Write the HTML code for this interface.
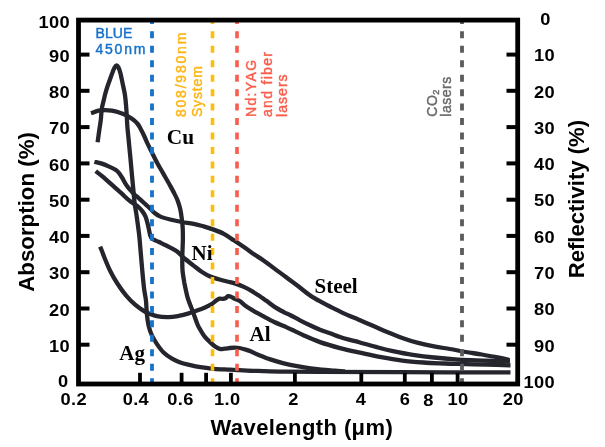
<!DOCTYPE html>
<html><head><meta charset="utf-8"><style>html,body{margin:0;padding:0;background:#fff;width:605px;height:447px;overflow:hidden}svg{display:block;will-change:transform}</style></head><body>
<svg width="605" height="447" viewBox="0 0 605 447">
<rect width="605" height="447" fill="#fff"/>
<defs><clipPath id="plotclip"><rect x="0" y="21" width="605" height="362"/></clipPath></defs>
<path d="M97.6,142.3 C97.9,140.2 98.8,133.7 99.3,130.0 C99.8,126.3 100.4,123.6 100.8,120.1 C101.2,116.5 101.3,112.0 101.8,108.7 C102.3,105.4 103.2,102.5 103.8,100.0 C104.4,97.5 104.6,96.2 105.2,94.0 C105.8,91.8 106.6,89.2 107.3,87.0 C108.0,84.8 108.8,82.8 109.6,80.5 C110.4,78.2 111.5,75.1 112.3,73.0 C113.1,70.9 113.8,69.1 114.5,67.8 C115.2,66.5 115.8,65.3 116.5,65.3 C117.2,65.2 117.8,66.1 118.5,67.5 C119.2,68.9 119.9,71.1 120.5,73.5 C121.1,75.9 121.5,78.2 122.3,81.8 C123.0,85.4 124.3,90.8 125.0,95.3 C125.7,99.8 125.9,103.5 126.3,108.7 C126.7,114.0 127.0,121.5 127.4,126.8 C127.8,132.1 128.3,135.8 128.7,140.3 C129.1,144.8 129.6,149.8 130.0,153.7 C130.4,157.5 130.6,159.6 130.9,163.4 C131.2,167.2 131.7,172.3 132.1,176.8 C132.5,181.3 133.0,185.8 133.4,190.3 C133.8,194.8 134.2,199.9 134.7,203.7 C135.2,207.5 135.7,209.8 136.2,213.0 C136.7,216.2 137.1,219.2 137.6,222.9 C138.1,226.6 138.7,231.0 139.2,235.3 C139.7,239.6 139.9,242.8 140.4,248.7 C140.9,254.6 141.7,264.1 142.3,270.8 C142.9,277.5 143.5,283.8 144.1,288.7 C144.7,293.6 145.4,295.9 145.9,300.0 C146.4,304.1 146.4,309.2 146.8,313.4 C147.2,317.6 147.7,321.6 148.5,325.2 C149.3,328.8 150.4,332.1 151.8,335.2 C153.2,338.3 154.8,341.0 156.8,343.9 C158.8,346.8 161.1,350.1 163.6,352.6 C166.1,355.1 169.2,357.1 172.0,358.7 C174.8,360.3 177.2,361.4 180.3,362.5 C183.4,363.6 187.0,364.3 190.4,365.1 C193.8,365.9 196.6,366.5 200.5,367.1 C204.4,367.7 209.0,368.4 213.9,368.8 C218.8,369.2 223.4,369.3 230.0,369.6 C236.6,369.9 245.3,370.5 253.6,370.8 C261.9,371.1 268.9,371.4 280.0,371.6 C291.1,371.8 300.0,371.8 320.0,371.9 C340.0,372.0 368.2,372.1 400.0,372.2 C431.8,372.3 492.1,372.4 510.5,372.4" fill="none" stroke="#24252d" stroke-width="4.3" stroke-linejoin="round" stroke-linecap="butt"/>
<path d="M91.0,113.2 C92.2,112.8 96.1,111.2 98.4,110.7 C100.8,110.2 102.9,110.1 105.1,110.1 C107.3,110.1 109.5,110.3 111.8,110.7 C114.0,111.1 116.3,111.6 118.6,112.3 C120.8,113.0 123.1,113.7 125.3,114.8 C127.5,115.9 130.0,117.3 132.0,118.8 C134.0,120.2 135.9,121.9 137.3,123.5 C138.7,125.1 139.2,126.2 140.3,128.2 C141.4,130.2 142.8,133.0 144.0,135.5 C145.2,138.0 146.0,140.4 147.3,143.1 C148.6,145.8 149.9,148.4 151.6,151.8 C153.3,155.2 155.6,159.9 157.5,163.5 C159.4,167.1 161.4,170.2 163.3,173.6 C165.2,177.0 167.2,180.5 169.1,183.8 C170.9,187.1 173.0,190.8 174.4,193.6 C175.8,196.4 176.8,198.2 177.7,200.7 C178.6,203.2 179.4,205.6 180.1,208.5 C180.8,211.4 181.3,214.7 181.7,217.9 C182.1,221.2 182.5,224.7 182.7,228.0 C182.9,231.3 182.9,234.7 182.9,238.0 C182.9,241.3 182.7,244.7 182.6,248.0 C182.5,251.3 182.3,254.3 182.3,258.0 C182.3,261.7 182.2,265.9 182.5,270.0 C182.8,274.1 183.6,278.4 184.3,282.6 C185.1,286.8 186.3,292.2 187.0,295.2 C187.7,298.1 187.4,297.2 188.5,300.3 C189.6,303.4 192.1,309.7 193.6,313.7 C195.1,317.7 196.3,321.6 197.5,324.5 C198.7,327.4 199.8,328.9 201.0,331.0 C202.2,333.1 203.4,335.1 204.9,336.9 C206.4,338.7 208.2,340.3 209.9,341.9 C211.6,343.5 213.2,345.1 214.8,346.3 C216.5,347.5 218.1,348.5 219.8,348.9 C221.5,349.3 223.2,348.8 224.8,348.7 C226.5,348.6 228.0,348.2 229.7,348.0 C231.3,347.8 233.0,347.6 234.7,347.6 C236.3,347.6 237.9,347.7 239.6,348.0 C241.2,348.3 242.8,348.8 244.6,349.3 C246.4,349.9 248.6,350.5 250.6,351.3 C252.6,352.1 253.6,352.9 256.9,354.2 C260.2,355.5 265.8,357.9 270.3,359.4 C274.8,360.9 279.3,362.2 283.8,363.3 C288.3,364.4 292.7,365.3 297.2,366.1 C301.7,366.9 306.5,367.7 310.6,368.3 C314.7,368.9 317.9,369.2 322.0,369.6 C326.1,370.0 331.2,370.3 335.0,370.6 C338.8,370.9 343.3,371.4 345.0,371.5" fill="none" stroke="#24252d" stroke-width="4.3" stroke-linejoin="round" stroke-linecap="butt"/>
<path d="M94.4,161.8 C95.5,162.1 98.6,162.6 101.1,163.4 C103.6,164.2 106.7,165.5 109.2,166.6 C111.7,167.7 114.2,168.9 115.9,170.1 C117.6,171.3 118.4,172.4 119.6,173.8 C120.8,175.2 121.8,177.1 122.8,178.8 C123.8,180.6 124.8,182.6 125.9,184.3 C127.0,186.0 128.1,187.4 129.3,188.9 C130.6,190.4 131.9,191.9 133.4,193.4 C134.9,194.9 136.8,196.5 138.5,198.0 C140.2,199.5 141.7,200.8 143.5,202.5 C145.3,204.2 147.6,206.1 149.5,207.9 C151.4,209.7 153.2,211.8 155.0,213.2 C156.8,214.6 157.5,215.3 160.0,216.4 C162.5,217.5 166.5,218.6 170.1,219.5 C173.7,220.4 177.9,221.3 181.8,222.0 C185.7,222.7 190.0,223.2 193.6,223.9 C197.2,224.6 200.2,225.5 203.6,226.4 C206.9,227.3 210.3,228.4 213.7,229.6 C217.1,230.8 220.5,232.0 223.8,233.8 C227.2,235.6 230.5,238.1 233.8,240.3 C237.2,242.5 240.5,244.7 243.9,247.0 C247.3,249.3 251.0,252.1 254.0,254.2 C257.0,256.3 258.7,257.2 262.1,259.6 C265.5,262.0 270.2,265.4 274.2,268.4 C278.2,271.3 282.2,274.3 286.2,277.3 C290.2,280.3 294.3,283.2 298.3,286.3 C302.3,289.4 306.4,292.9 310.4,295.6 C314.4,298.3 318.5,300.4 322.5,302.6 C326.5,304.8 330.6,306.8 334.6,308.8 C338.6,310.8 342.6,312.8 346.6,314.6 C350.6,316.4 354.7,318.0 358.7,319.7 C362.7,321.4 366.0,322.7 370.6,324.7 C375.2,326.7 381.2,329.5 386.5,331.7 C391.8,333.9 397.0,336.0 402.3,337.9 C407.6,339.8 412.9,341.5 418.2,342.9 C423.5,344.3 428.8,345.4 434.1,346.4 C439.4,347.4 444.6,348.1 449.9,349.0 C455.2,349.9 460.5,351.1 465.8,352.0 C471.1,352.9 476.4,353.6 481.7,354.5 C487.0,355.4 493.4,356.5 497.6,357.3 C501.8,358.1 504.8,358.9 506.8,359.4 C508.8,359.9 509.2,360.1 509.7,360.2" fill="none" stroke="#24252d" stroke-width="4.3" stroke-linejoin="round" stroke-linecap="butt"/>
<path d="M95.7,171.2 C96.8,172.1 100.2,174.5 102.4,176.4 C104.7,178.3 107.0,180.4 109.2,182.4 C111.5,184.4 113.7,186.4 115.9,188.4 C118.1,190.4 120.5,192.5 122.6,194.4 C124.6,196.3 126.4,198.1 128.2,199.6 C130.0,201.1 131.8,202.4 133.5,203.6 C135.2,204.8 137.0,205.7 138.5,207.0 C140.0,208.3 141.4,210.0 142.6,211.6 C143.8,213.2 144.8,214.8 145.6,216.8 C146.4,218.8 147.0,221.4 147.6,223.6 C148.2,225.7 148.6,227.8 149.0,229.8 C149.4,231.7 149.7,233.9 150.2,235.4 C150.7,236.9 151.2,238.0 152.0,238.8 C152.8,239.6 153.9,239.7 155.0,240.2 C156.1,240.7 156.8,241.0 158.5,241.8 C160.2,242.6 163.3,244.2 165.0,245.0 C166.7,245.8 166.4,245.5 168.4,246.6 C170.4,247.7 174.0,249.2 176.8,251.3 C179.6,253.4 182.4,256.6 185.2,259.0 C188.0,261.4 190.8,263.4 193.6,265.6 C196.4,267.8 199.2,270.2 202.0,272.0 C204.8,273.8 207.5,275.4 210.3,276.6 C213.1,277.8 215.9,278.5 218.7,279.3 C221.5,280.1 224.3,280.8 227.1,281.5 C229.9,282.2 232.7,282.7 235.5,283.6 C238.3,284.5 241.1,285.6 243.9,286.9 C246.7,288.2 250.0,290.0 252.3,291.4 C254.7,292.8 255.7,293.5 258.0,295.0 C260.3,296.5 263.4,298.7 266.1,300.6 C268.8,302.5 271.2,304.7 274.2,306.6 C277.2,308.6 281.6,310.9 284.2,312.3 C286.8,313.7 287.4,313.7 290.0,315.0 C292.6,316.3 296.7,318.6 300.0,320.3 C303.3,322.0 306.7,323.7 310.0,325.3 C313.3,326.9 316.7,328.4 320.0,329.7 C323.3,331.0 326.7,332.1 330.0,333.3 C333.3,334.5 336.7,335.9 340.0,337.0 C343.3,338.1 346.7,339.0 350.0,339.9 C353.3,340.8 355.7,341.3 360.0,342.5 C364.3,343.7 370.6,345.5 375.9,346.9 C381.2,348.3 385.5,349.5 391.7,350.8 C397.9,352.1 405.8,353.7 412.9,354.8 C420.0,355.9 427.1,356.8 434.1,357.5 C441.2,358.2 448.1,358.8 455.2,359.3 C462.2,359.8 469.3,360.0 476.4,360.3 C483.5,360.6 492.0,360.8 497.6,361.0 C503.2,361.2 507.9,361.5 510.0,361.6" fill="none" stroke="#24252d" stroke-width="4.3" stroke-linejoin="round" stroke-linecap="butt"/>
<path d="M100.2,246.6 C101.0,248.6 103.1,254.3 104.7,258.3 C106.3,262.3 108.0,266.6 110.1,270.8 C112.2,275.0 114.5,279.2 117.2,283.3 C119.9,287.4 123.2,292.1 126.2,295.6 C129.2,299.2 132.1,302.0 135.1,304.6 C138.1,307.2 141.7,309.6 144.1,311.1 C146.5,312.6 147.3,312.9 149.4,313.7 C151.5,314.5 153.6,315.6 156.8,316.2 C160.0,316.8 164.9,317.2 168.6,317.1 C172.2,317.1 175.3,316.5 178.7,315.9 C182.0,315.3 185.1,314.5 188.7,313.4 C192.3,312.3 197.8,310.2 200.5,309.2 C203.2,308.2 203.2,308.3 205.0,307.5 C206.8,306.7 209.8,305.3 211.6,304.2 C213.4,303.1 214.3,301.8 215.6,300.9 C216.9,300.0 218.3,298.9 219.5,298.6 C220.7,298.3 221.9,299.0 222.9,298.9 C223.9,298.8 224.6,298.6 225.5,298.2 C226.4,297.8 227.1,296.4 228.1,296.2 C229.1,296.0 230.3,296.4 231.4,296.9 C232.5,297.3 233.7,298.3 234.8,298.9 C235.9,299.4 237.0,299.6 238.1,300.2 C239.2,300.8 240.2,301.3 241.4,302.2 C242.6,303.1 243.2,304.2 245.0,305.5 C246.8,306.8 249.5,308.5 252.3,310.2 C255.2,311.9 258.5,313.6 262.1,315.6 C265.8,317.6 270.2,320.1 274.2,322.0 C278.2,323.9 282.8,325.6 286.2,327.1 C289.6,328.6 291.4,329.5 294.3,330.9 C297.2,332.3 299.6,333.6 303.9,335.5 C308.2,337.4 314.0,340.0 320.0,342.1 C326.0,344.2 333.3,346.3 340.0,348.1 C346.7,349.9 353.1,351.2 360.0,352.7 C366.9,354.2 374.1,355.9 381.2,357.2 C388.2,358.5 395.2,359.7 402.3,360.6 C409.4,361.5 416.4,362.0 423.5,362.5 C430.6,363.0 437.6,363.2 444.7,363.5 C451.8,363.8 458.8,363.9 465.8,364.1 C472.9,364.3 479.6,364.5 487.0,364.7 C494.4,364.9 506.6,365.2 510.5,365.3" fill="none" stroke="#24252d" stroke-width="4.3" stroke-linejoin="round" stroke-linecap="butt"/>
<line x1="152.0" y1="16.9" x2="152.0" y2="382" stroke="#1772ca" stroke-width="3.8" stroke-dasharray="7 7.45" stroke-dashoffset="0" clip-path="url(#plotclip)"/>
<line x1="212.5" y1="16.9" x2="212.5" y2="382" stroke="#ffbd0a" stroke-width="3.6" stroke-dasharray="7 7.45" stroke-dashoffset="0" clip-path="url(#plotclip)"/>
<line x1="237.0" y1="16.9" x2="237.0" y2="382" stroke="#fa5d4c" stroke-width="3.6" stroke-dasharray="7 7.45" stroke-dashoffset="0" clip-path="url(#plotclip)"/>
<line x1="462.0" y1="16.9" x2="462.0" y2="382" stroke="#5b5b5b" stroke-width="3.8" stroke-dasharray="7 7.45" stroke-dashoffset="0" clip-path="url(#plotclip)"/>
<rect x="78.5" y="20.1" width="439.2" height="363.9" fill="none" stroke="#000" stroke-width="4.8"/>
<line x1="80" y1="344.7" x2="89.5" y2="344.7" stroke="#000" stroke-width="4"/>
<line x1="506.5" y1="344.7" x2="516" y2="344.7" stroke="#000" stroke-width="4"/>
<line x1="80" y1="308.5" x2="89.5" y2="308.5" stroke="#000" stroke-width="4"/>
<line x1="506.5" y1="308.5" x2="516" y2="308.5" stroke="#000" stroke-width="4"/>
<line x1="80" y1="272.2" x2="89.5" y2="272.2" stroke="#000" stroke-width="4"/>
<line x1="506.5" y1="272.2" x2="516" y2="272.2" stroke="#000" stroke-width="4"/>
<line x1="80" y1="235.9" x2="89.5" y2="235.9" stroke="#000" stroke-width="4"/>
<line x1="506.5" y1="235.9" x2="516" y2="235.9" stroke="#000" stroke-width="4"/>
<line x1="80" y1="199.7" x2="89.5" y2="199.7" stroke="#000" stroke-width="4"/>
<line x1="506.5" y1="199.7" x2="516" y2="199.7" stroke="#000" stroke-width="4"/>
<line x1="80" y1="163.4" x2="89.5" y2="163.4" stroke="#000" stroke-width="4"/>
<line x1="506.5" y1="163.4" x2="516" y2="163.4" stroke="#000" stroke-width="4"/>
<line x1="80" y1="127.1" x2="89.5" y2="127.1" stroke="#000" stroke-width="4"/>
<line x1="506.5" y1="127.1" x2="516" y2="127.1" stroke="#000" stroke-width="4"/>
<line x1="80" y1="90.8" x2="89.5" y2="90.8" stroke="#000" stroke-width="4"/>
<line x1="506.5" y1="90.8" x2="516" y2="90.8" stroke="#000" stroke-width="4"/>
<line x1="80" y1="54.6" x2="89.5" y2="54.6" stroke="#000" stroke-width="4"/>
<line x1="506.5" y1="54.6" x2="516" y2="54.6" stroke="#000" stroke-width="4"/>
<line x1="140.0" y1="372.8" x2="140.0" y2="383" stroke="#000" stroke-width="3.8"/>
<line x1="181.6" y1="372.8" x2="181.6" y2="383" stroke="#000" stroke-width="3.8"/>
<line x1="206.1" y1="372.8" x2="206.1" y2="383" stroke="#000" stroke-width="3.8"/>
<line x1="230.9" y1="372.8" x2="230.9" y2="383" stroke="#000" stroke-width="3.8"/>
<line x1="294.9" y1="372.8" x2="294.9" y2="383" stroke="#000" stroke-width="3.8"/>
<line x1="361.3" y1="372.8" x2="361.3" y2="383" stroke="#000" stroke-width="3.8"/>
<line x1="404.8" y1="372.8" x2="404.8" y2="383" stroke="#000" stroke-width="3.8"/>
<line x1="431.9" y1="372.8" x2="431.9" y2="383" stroke="#000" stroke-width="3.8"/>
<line x1="457.6" y1="372.8" x2="457.6" y2="383" stroke="#000" stroke-width="3.8"/>
<text transform="translate(68.6,387.4) scale(1.05,1)" text-anchor="end" font-family="Liberation Sans, sans-serif" font-weight="bold" font-size="17.4" letter-spacing="0.3">0</text>
<text transform="translate(69.9,351.9) scale(1.05,1)" text-anchor="end" font-family="Liberation Sans, sans-serif" font-weight="bold" font-size="17.4" letter-spacing="0.3">10</text>
<text transform="translate(69.9,315.7) scale(1.05,1)" text-anchor="end" font-family="Liberation Sans, sans-serif" font-weight="bold" font-size="17.4" letter-spacing="0.3">20</text>
<text transform="translate(69.9,279.4) scale(1.05,1)" text-anchor="end" font-family="Liberation Sans, sans-serif" font-weight="bold" font-size="17.4" letter-spacing="0.3">30</text>
<text transform="translate(69.9,243.1) scale(1.05,1)" text-anchor="end" font-family="Liberation Sans, sans-serif" font-weight="bold" font-size="17.4" letter-spacing="0.3">40</text>
<text transform="translate(69.9,206.8) scale(1.05,1)" text-anchor="end" font-family="Liberation Sans, sans-serif" font-weight="bold" font-size="17.4" letter-spacing="0.3">50</text>
<text transform="translate(69.9,170.6) scale(1.05,1)" text-anchor="end" font-family="Liberation Sans, sans-serif" font-weight="bold" font-size="17.4" letter-spacing="0.3">60</text>
<text transform="translate(69.9,134.3) scale(1.05,1)" text-anchor="end" font-family="Liberation Sans, sans-serif" font-weight="bold" font-size="17.4" letter-spacing="0.3">70</text>
<text transform="translate(69.9,98.0) scale(1.05,1)" text-anchor="end" font-family="Liberation Sans, sans-serif" font-weight="bold" font-size="17.4" letter-spacing="0.3">80</text>
<text transform="translate(69.9,61.8) scale(1.05,1)" text-anchor="end" font-family="Liberation Sans, sans-serif" font-weight="bold" font-size="17.4" letter-spacing="0.3">90</text>
<text transform="translate(69.9,27.7) scale(1.05,1)" text-anchor="end" font-family="Liberation Sans, sans-serif" font-weight="bold" font-size="17.4" letter-spacing="0.3">100</text>
<text transform="translate(545.5,25.1) scale(1.05,1)" text-anchor="middle" font-family="Liberation Sans, sans-serif" font-weight="bold" font-size="17.4" letter-spacing="0.3">0</text>
<text transform="translate(555.0,61.4) scale(1.05,1)" text-anchor="end" font-family="Liberation Sans, sans-serif" font-weight="bold" font-size="17.4" letter-spacing="0.3">10</text>
<text transform="translate(555.0,97.6) scale(1.05,1)" text-anchor="end" font-family="Liberation Sans, sans-serif" font-weight="bold" font-size="17.4" letter-spacing="0.3">20</text>
<text transform="translate(555.0,133.9) scale(1.05,1)" text-anchor="end" font-family="Liberation Sans, sans-serif" font-weight="bold" font-size="17.4" letter-spacing="0.3">30</text>
<text transform="translate(555.0,170.2) scale(1.05,1)" text-anchor="end" font-family="Liberation Sans, sans-serif" font-weight="bold" font-size="17.4" letter-spacing="0.3">40</text>
<text transform="translate(555.0,206.4) scale(1.05,1)" text-anchor="end" font-family="Liberation Sans, sans-serif" font-weight="bold" font-size="17.4" letter-spacing="0.3">50</text>
<text transform="translate(555.0,242.7) scale(1.05,1)" text-anchor="end" font-family="Liberation Sans, sans-serif" font-weight="bold" font-size="17.4" letter-spacing="0.3">60</text>
<text transform="translate(555.0,279.0) scale(1.05,1)" text-anchor="end" font-family="Liberation Sans, sans-serif" font-weight="bold" font-size="17.4" letter-spacing="0.3">70</text>
<text transform="translate(555.0,315.3) scale(1.05,1)" text-anchor="end" font-family="Liberation Sans, sans-serif" font-weight="bold" font-size="17.4" letter-spacing="0.3">80</text>
<text transform="translate(555.0,351.5) scale(1.05,1)" text-anchor="end" font-family="Liberation Sans, sans-serif" font-weight="bold" font-size="17.4" letter-spacing="0.3">90</text>
<text transform="translate(555.0,387.8) scale(1.05,1)" text-anchor="end" font-family="Liberation Sans, sans-serif" font-weight="bold" font-size="17.4" letter-spacing="0.3">100</text>
<text transform="translate(73.7,405.0) scale(1.05,1)" text-anchor="middle" font-family="Liberation Sans, sans-serif" font-weight="bold" font-size="17.4" letter-spacing="0.3">0.2</text>
<text transform="translate(135.9,405.0) scale(1.05,1)" text-anchor="middle" font-family="Liberation Sans, sans-serif" font-weight="bold" font-size="17.4" letter-spacing="0.3">0.4</text>
<text transform="translate(180.5,405.0) scale(1.05,1)" text-anchor="middle" font-family="Liberation Sans, sans-serif" font-weight="bold" font-size="17.4" letter-spacing="0.3">0.6</text>
<text transform="translate(227.2,405.0) scale(1.05,1)" text-anchor="middle" font-family="Liberation Sans, sans-serif" font-weight="bold" font-size="17.4" letter-spacing="0.3">1.0</text>
<text transform="translate(293.4,405.0) scale(1.05,1)" text-anchor="middle" font-family="Liberation Sans, sans-serif" font-weight="bold" font-size="17.4" letter-spacing="0.3">2</text>
<text transform="translate(361.1,405.0) scale(1.05,1)" text-anchor="middle" font-family="Liberation Sans, sans-serif" font-weight="bold" font-size="17.4" letter-spacing="0.3">4</text>
<text transform="translate(404.9,405.0) scale(1.05,1)" text-anchor="middle" font-family="Liberation Sans, sans-serif" font-weight="bold" font-size="17.4" letter-spacing="0.3">6</text>
<text transform="translate(428.5,405.9) scale(1.05,1)" text-anchor="middle" font-family="Liberation Sans, sans-serif" font-weight="bold" font-size="17.4" letter-spacing="0.3">8</text>
<text transform="translate(457.9,405.0) scale(1.05,1)" text-anchor="middle" font-family="Liberation Sans, sans-serif" font-weight="bold" font-size="17.4" letter-spacing="0.3">10</text>
<text transform="translate(513.3,405.0) scale(1.05,1)" text-anchor="middle" font-family="Liberation Sans, sans-serif" font-weight="bold" font-size="17.4" letter-spacing="0.3">20</text>
<text x="210.5" y="434.5" font-family="Liberation Sans, sans-serif" font-weight="bold" font-size="22" letter-spacing="0.42">Wavelength (μm)</text>
<text transform="translate(34.2,291.8) rotate(-90)" font-family="Liberation Sans, sans-serif" font-weight="bold" font-size="22.3">Absorption (%)</text>
<text transform="translate(583.8,278.3) rotate(-90)" font-family="Liberation Sans, sans-serif" font-weight="bold" font-size="22.1">Reflectivity (%)</text>
<text x="95.6" y="37.9" font-family="Liberation Sans, sans-serif" font-size="14" stroke-width="0.45" fill="#1772ca" stroke="#1772ca" letter-spacing="0.05">BLUE</text>
<text x="95.5" y="53.7" font-family="Liberation Sans, sans-serif" font-size="14" stroke-width="0.45" fill="#1772ca" stroke="#1772ca" letter-spacing="1.76">450nm</text>
<text transform="translate(186.4,117.1) rotate(-90)" font-family="Liberation Sans, sans-serif" font-size="14" stroke-width="0.45" fill="#fdb515" stroke="#fdb515" letter-spacing="1.8">808/980nm</text>
<text transform="translate(201.9,117.1) rotate(-90)" font-family="Liberation Sans, sans-serif" font-size="14" stroke-width="0.45" fill="#fdb515" stroke="#fdb515" letter-spacing="0.85">System</text>
<text transform="translate(256.2,117) rotate(-90)" font-family="Liberation Sans, sans-serif" font-size="14" stroke-width="0.45" fill="#fa5d4c" stroke="#fa5d4c" letter-spacing="1.35">Nd:YAG</text>
<text transform="translate(271.5,117) rotate(-90)" font-family="Liberation Sans, sans-serif" font-size="14" stroke-width="0.45" fill="#fa5d4c" stroke="#fa5d4c" letter-spacing="1.3">and fiber</text>
<text transform="translate(286.6,117) rotate(-90)" font-family="Liberation Sans, sans-serif" font-size="14" stroke-width="0.45" fill="#fa5d4c" stroke="#fa5d4c" letter-spacing="1.05">lasers</text>
<text transform="translate(436.8,116.7) rotate(-90)" font-family="Liberation Sans, sans-serif" font-size="14" stroke-width="0.45" fill="#6a6a6a" stroke="#6a6a6a" letter-spacing="0.5">CO<tspan font-size="9" dy="1.8">2</tspan></text>
<text transform="translate(451.4,116.7) rotate(-90)" font-family="Liberation Sans, sans-serif" font-size="14" stroke-width="0.45" fill="#6a6a6a" stroke="#6a6a6a" letter-spacing="0.5">lasers</text>
<text x="166.8" y="143.7" font-family="Liberation Serif, serif" font-weight="bold" font-size="22" transform="translate(166.8,143.7) scale(0.97,1) translate(-166.8,-143.7)">Cu</text>
<text x="191.5" y="259.8" font-family="Liberation Serif, serif" font-weight="bold" font-size="21" fill="#000">Ni</text>
<text x="314.5" y="292.6" font-family="Liberation Serif, serif" font-weight="bold" font-size="21" fill="#000">Steel</text>
<text x="249.5" y="340.5" font-family="Liberation Serif, serif" font-weight="bold" font-size="21" fill="#000">Al</text>
<text x="119.3" y="359.8" font-family="Liberation Serif, serif" font-weight="bold" font-size="21" fill="#000">Ag</text>
</svg>
</body></html>
